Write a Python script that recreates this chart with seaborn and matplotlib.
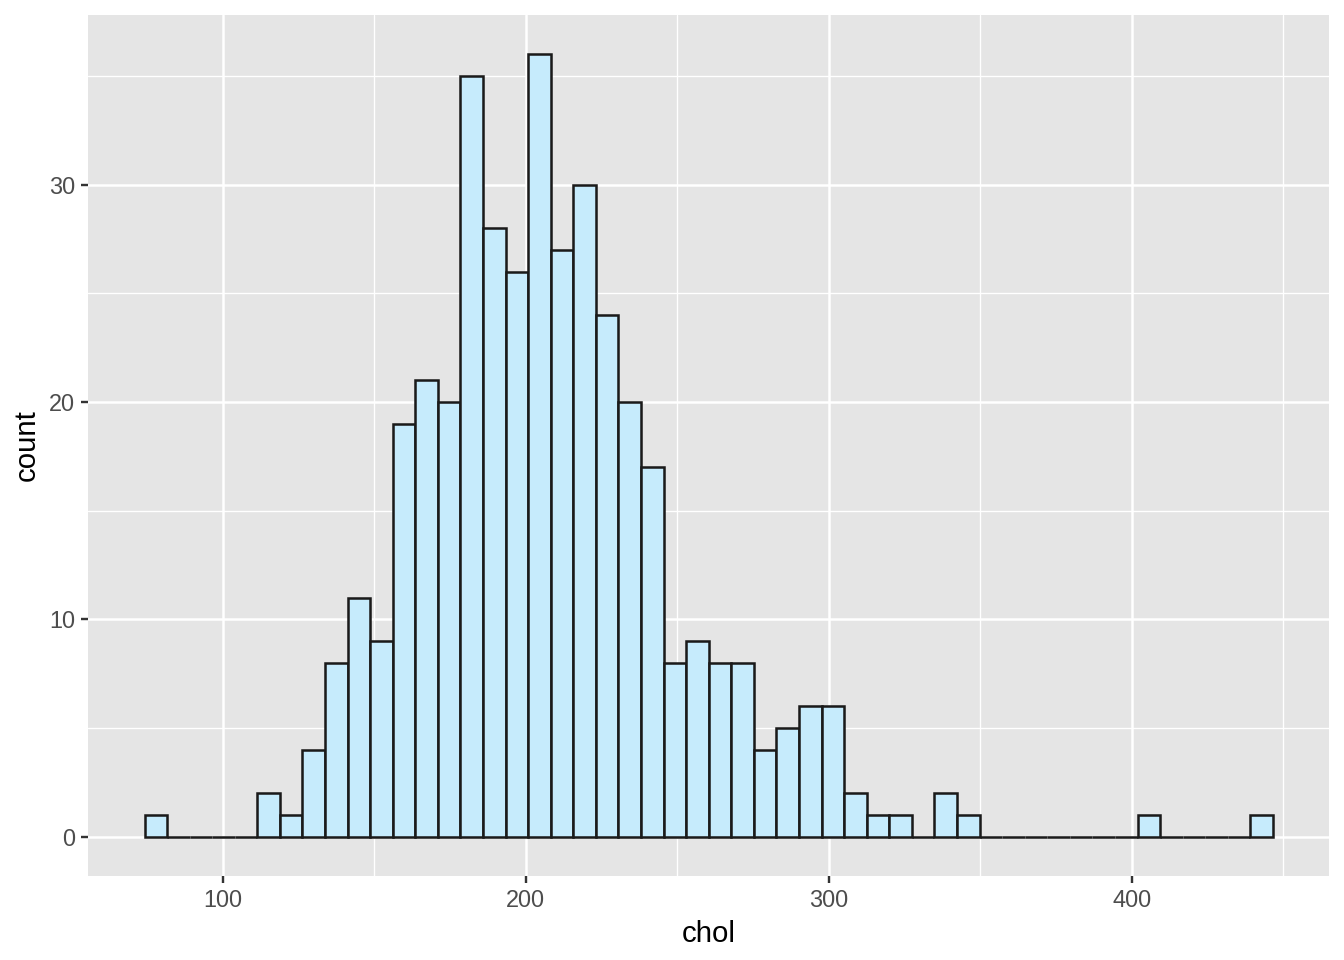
"""Histogram of cholesterol values, drawn in a ggplot-like style."""

import numpy as np
import pandas as pd
import matplotlib
matplotlib.use("Agg")
import matplotlib.pyplot as plt
import seaborn as sns

# bin layout (50 bins)
bin_start = 74.2
bin_width = 7.448
counts = [
    1, 0, 0, 0, 0, 2, 1, 4, 8, 11,
    9, 19, 21, 20, 35, 28, 26, 36, 27, 30,
    24, 20, 17, 8, 9, 8, 8, 4, 5, 6,
    6, 2, 1, 1, 0, 2, 1, 0, 0, 0,
    0, 0, 0, 0, 1, 0, 0, 0, 0, 1,
]
x_ticks = [100, 200, 300, 400]
y_ticks = [0, 10, 20, 30]

edges = bin_start + bin_width * np.arange(len(counts) + 1)
df = pd.DataFrame({
    "chol": (edges[:-1] + edges[1:]) / 2,
    "n": counts,
})

sns.set_theme(style="darkgrid", rc={
    "axes.facecolor": "#E5E5E5",
    "grid.color": "white",
})
plt.rcParams["font.family"] = ["Liberation Sans", "DejaVu Sans"]

fig = plt.figure(figsize=(7, 5), dpi=192)
ax = fig.add_axes([88 / 1344, 84 / 960, (1329 - 88) / 1344, (945 - 84) / 960])

sns.histplot(
    data=df, x="chol", weights="n", bins=edges.tolist(), ax=ax,
    color="#C6EBFC", edgecolor="#1A1A1A", linewidth=0.95, alpha=1,
)

ax.set_xlim(55.55, 465.1)
ax.set_ylim(-1.8, 37.8)
ax.set_xticks(x_ticks)
ax.set_yticks(y_ticks)
ax.set_xticks([150, 250, 350, 450], minor=True)
ax.set_yticks([5, 15, 25, 35], minor=True)
ax.grid(which="major", color="white", linewidth=0.95)
ax.grid(which="minor", color="white", linewidth=0.5)
ax.set_axisbelow(True)
for s in ax.spines.values():
    s.set_visible(False)

ax.tick_params(which="major", length=2.75, width=0.9, color="#333333",
               labelsize=8.8, labelcolor="#4D4D4D", pad=2.2,
               bottom=True, left=True)
ax.tick_params(which="minor", length=0)
ax.set_xlabel("chol", fontsize=11, color="black", labelpad=3)
ax.set_ylabel("count", fontsize=11, color="black", labelpad=3)

plt.savefig("out.png", dpi=192)
